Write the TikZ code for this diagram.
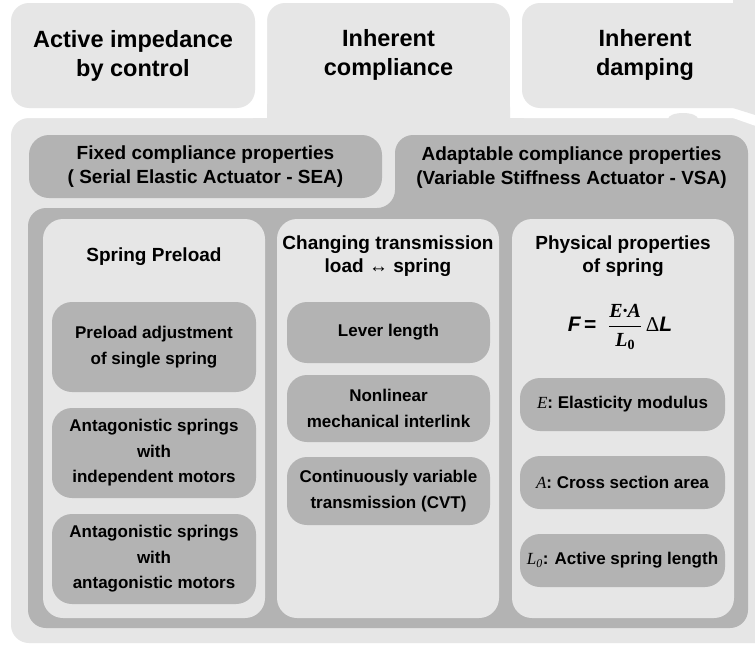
\documentclass[tikz,border=0pt]{standalone}
\usepackage{fontspec}
\setmainfont{Liberation Sans}
\newfontfamily\tms{Liberation Serif}
\definecolor{lightg}{HTML}{E6E6E6}
\definecolor{midg}{HTML}{B3B3B3}
\tikzset{
  ttl/.style={font=\fontsize{23.5}{29}\selectfont\bfseries, align=center, inner sep=0pt},
  hd/.style={font=\fontsize{19}{24}\selectfont\bfseries, align=center, inner sep=0pt},
  ct/.style={font=\fontsize{19}{23.5}\selectfont\bfseries, align=center, inner sep=0pt},
  sb/.style={font=\fontsize{17}{25.5}\selectfont\bfseries, align=center, inner sep=0pt},
  colbox/.style={fill=lightg, rounded corners=20pt, minimum width=222pt, minimum height=399pt, inner sep=0pt},
  subbox/.style={sb, fill=midg, rounded corners=20pt, minimum width=#1, inner sep=0pt},
}
\begin{document}
\begin{tikzpicture}[x=1pt,y=-1pt]
\path[use as bounding box] (0,0) rectangle (755,645);
\clip (0,0) rectangle (755,645);
\fill[white] (0,0) rectangle (755,645);
% big light region and compliance tab
\fill[lightg, rounded corners=18pt] (11,118) rectangle (790,643);
\fill[lightg, rounded corners=18pt] (267,3) rectangle (510,170);
% white halos
\fill[white, rounded corners=14pt] (-20,-20) rectangle (267,118);
\fill[white, rounded corners=14pt] (510,-20) rectangle (790,118);
% top boxes
\node[ttl, fill=lightg, rounded corners=18pt, minimum width=244pt, minimum height=105pt] (act) at (133,55.5) {Active impedance\\by control};
\fill[lightg, rounded corners=18pt] (522,3) rectangle (790,108);
\node[ttl] (comp) at (388.5,55) {Inherent\\compliance};
\node[ttl] (damp) at (645,55) {Inherent\\damping};
% top-right fragments
\fill[lightg] (733,0) -- (760,0) -- (760,116.5) -- (733,108) -- cycle;
\fill[white] (733,118) -- (760,118) -- (760,127.5) -- cycle;
\fill[lightg] (683,119) ellipse [x radius=15pt, y radius=6pt];
% VSA region
\fill[midg, rounded corners=18pt] (28,628) -- (28,208) -- (395,208) -- (395,135) -- (748,135) -- (748,628) -- cycle;
\node[hd, fill=midg, rounded corners=20pt, minimum width=353pt, minimum height=63pt] (fix) at (205.5,166.5) {Fixed compliance properties\\( Serial Elastic Actuator - SEA)};
\node[hd] (vsa) at (571.5,168) {Adaptable compliance properties\\(Variable Stiffness Actuator - VSA)};
% columns
\node[colbox] (c1) at (154,418.5) {};
\node[colbox] (c2) at (388,418.5) {};
\node[colbox] (c3) at (623,418.5) {};
\node[ct] (t1) at (154,257) {Spring Preload};
\node[ct] (t2) at (388,256) {Changing transmission\\load {\mdseries↔} spring};
\node[ct] (t3) at (623,256) {Physical properties\\of spring};
% column 1
\node[subbox=204pt, minimum height=90pt] (p1) at (154,347) {Preload adjustment\\of single spring};
\node[subbox=204pt, minimum height=90pt] (p2) at (154,453) {Antagonistic springs\\with\\independent motors};
\node[subbox=204pt, minimum height=90pt] (p3) at (154,559) {Antagonistic springs\\with\\antagonistic motors};
% column 2
\node[subbox=203pt, minimum height=61pt] (m1) at (388.5,332.5) {Lever length};
\node[subbox=203pt, minimum height=67pt] (m2) at (388.5,408.5) {Nonlinear\\mechanical interlink};
\node[subbox=203pt, minimum height=68pt] (m3) at (388.5,491) {Continuously variable\\transmission (CVT)};
% column 3
\node (eq) at (620,327) {\fontsize{21}{25}\selectfont\bfseries\itshape F\,\upshape=\ \ \(\displaystyle\frac{\hbox{\fontsize{20}{24}\selectfont\tms\bfseries\itshape E·A}}{\hbox{\fontsize{20}{24}\selectfont\tms\bfseries\itshape L\textsubscript{\upshape 0}}}\)\,{\tms\mdseries\upshape Δ}\itshape L};
\node[subbox=205pt, minimum height=53pt] (r1) at (622.5,404.5) {{\tms\mdseries\itshape E}: Elasticity modulus};
\node[subbox=205pt, minimum height=53pt] (r2) at (622.5,482.5) {{\tms\mdseries\itshape A}: Cross section area};
\node[subbox=205pt, minimum height=53pt] (r3) at (622.5,560.5) {{\tms\mdseries\itshape L\textsubscript{0}}: Active spring length};
\end{tikzpicture}
\end{document}
